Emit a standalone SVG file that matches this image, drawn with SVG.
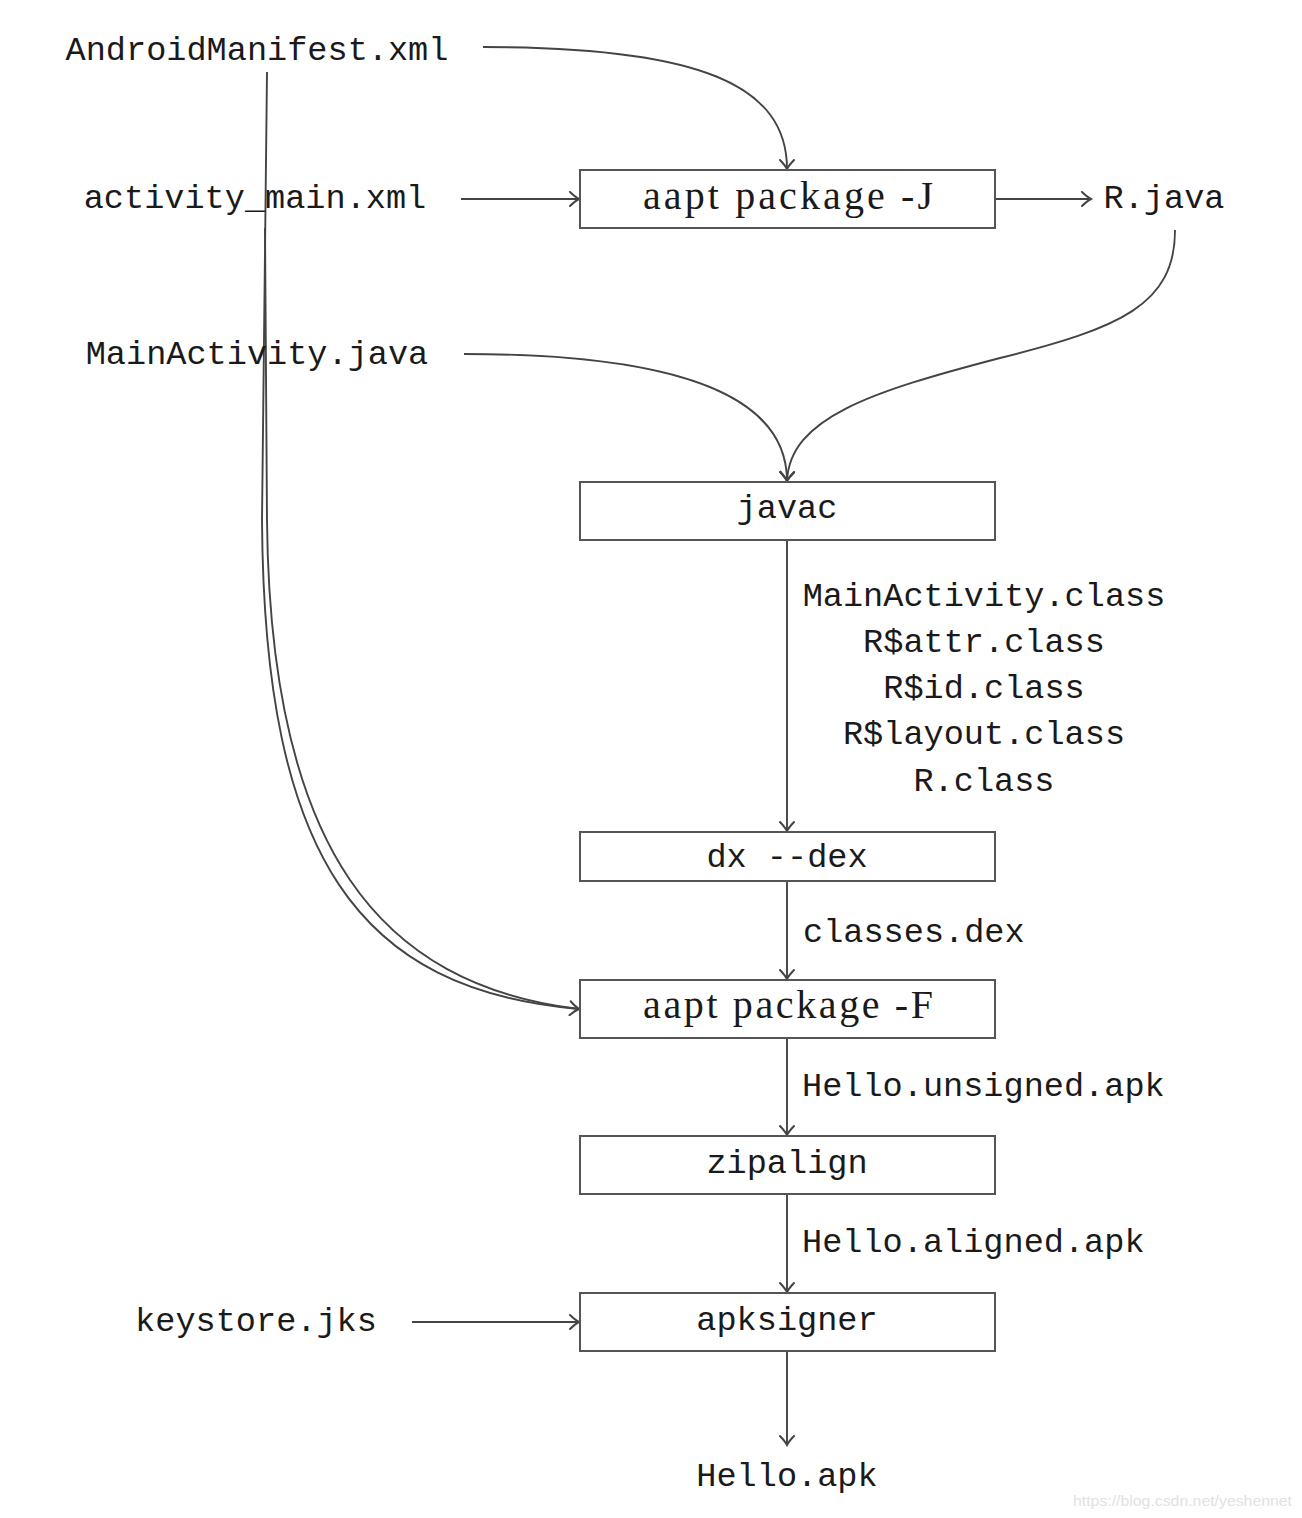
<svg xmlns="http://www.w3.org/2000/svg" width="1302" height="1518" viewBox="0 0 1302 1518">
<defs>
<style>
.t{font-family:"Liberation Mono","DejaVu Sans Mono",monospace;font-size:33.6px;fill:#1a1a1a;text-anchor:middle}
.tl{text-anchor:start}
.r{font-family:"Liberation Serif","DejaVu Serif",serif;font-size:40px;fill:#1a1a1a;text-anchor:middle}
.box{fill:#fff;stroke:#555;stroke-width:2}
.c{fill:none;stroke:#444;stroke-width:1.9}
.wm{font-family:"Liberation Sans",Arial,sans-serif;font-size:15px;fill:#e2e2e2}
</style>
<marker id="ah" viewBox="-12 -8 14 16" markerWidth="14" markerHeight="16" refX="0" refY="0" orient="auto" markerUnits="userSpaceOnUse">
<path d="M-9,-7 Q-3.5,-1.8 0,0 Q-3.5,1.8 -9,7" fill="none" stroke="#444" stroke-width="2" stroke-linecap="round"/>
</marker>
</defs>
<rect width="1302" height="1518" fill="#fff"/>

<g id="connectors">
<path class="c" d="M483,47 C700,47 787,85 787,169" marker-end="url(#ah)"/>
<path class="c" d="M461,199 L579,199" marker-end="url(#ah)"/>
<path class="c" d="M995,199 L1091,199" marker-end="url(#ah)"/>
<path class="c" d="M464,354 C690,354 787,400 787,481" marker-end="url(#ah)"/>
<path class="c" d="M1175,230 C1175,305 1120,328 1000,358 C870,392 790,418 787,481" marker-end="url(#ah)"/>
<path class="c" d="M267,72 L262,520 C264,860 360,990 579,1009" marker-end="url(#ah)"/>
<path class="c" d="M265,228 L267,520 C270,850 380,985 579,1009"/>
<path class="c" d="M787,540 L787,831" marker-end="url(#ah)"/>
<path class="c" d="M787,881 L787,979" marker-end="url(#ah)"/>
<path class="c" d="M787,1038 L787,1135" marker-end="url(#ah)"/>
<path class="c" d="M787,1194 L787,1292" marker-end="url(#ah)"/>
<path class="c" d="M412,1322 L579,1322" marker-end="url(#ah)"/>
<path class="c" d="M787,1351 L787,1445" marker-end="url(#ah)"/>
</g>

<g id="edge-labels">
<text class="t" x="984" y="606">MainActivity.class</text>
<text class="t" x="984" y="652">R$attr.class</text>
<text class="t" x="984" y="698">R$id.class</text>
<text class="t" x="984" y="744">R$layout.class</text>
<text class="t" x="984" y="791">R.class</text>
<text class="t tl" x="803" y="942">classes.dex</text>
<text class="t tl" x="802" y="1096">Hello.unsigned.apk</text>
<text class="t tl" x="802" y="1252">Hello.aligned.apk</text>
</g>

<g id="androidmanifest"><text class="t" x="257" y="60">AndroidManifest.xml</text></g>
<g id="activity_main"><text class="t" x="255" y="208">activity_main.xml</text></g>
<g id="mainactivity"><text class="t" x="257" y="364">MainActivity.java</text></g>
<g id="keystore"><text class="t" x="256" y="1331">keystore.jks</text></g>
<g id="rjava"><text class="t" x="1164" y="208">R.java</text></g>
<g id="helloapk"><text class="t" x="787" y="1486">Hello.apk</text></g>

<g id="aapt-j"><rect class="box" x="580" y="170" width="415" height="58"/><text class="r" x="788" y="209" textLength="290" lengthAdjust="spacing">aapt package -J</text></g>
<g id="javac"><rect class="box" x="580" y="482" width="415" height="58"/><text class="t" x="787" y="518">javac</text></g>
<g id="dx"><rect class="box" x="580" y="832" width="415" height="49"/><text class="t" x="787" y="867">dx --dex</text></g>
<g id="aapt-f"><rect class="box" x="580" y="980" width="415" height="58"/><text class="r" x="788" y="1018" textLength="290" lengthAdjust="spacing">aapt package -F</text></g>
<g id="zipalign"><rect class="box" x="580" y="1136" width="415" height="58"/><text class="t" x="787" y="1173">zipalign</text></g>
<g id="apksigner"><rect class="box" x="580" y="1293" width="415" height="58"/><text class="t" x="787" y="1330">apksigner</text></g>

<text class="wm" x="1073" y="1506" textLength="219" lengthAdjust="spacingAndGlyphs">https://blog.csdn.net/yeshennet</text>
</svg>
